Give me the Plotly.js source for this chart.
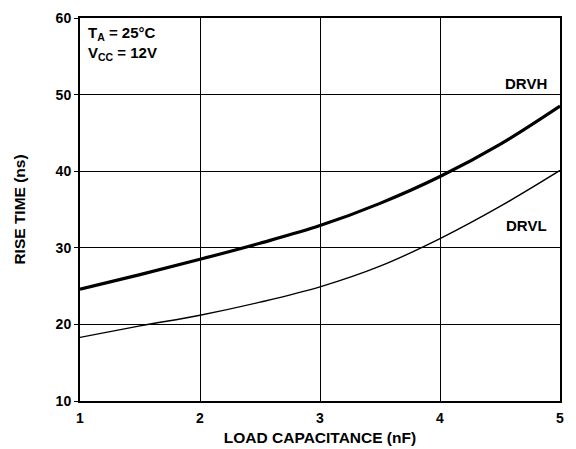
<!DOCTYPE html>
<html>
<head>
<meta charset="utf-8">
<script src="https://cdn.plot.ly/plotly-3.0.1.min.js"></script>
<style>html,body{margin:0;padding:0;background:#fff;}#chart{width:576px;height:449px;}</style>
</head>
<body>
<div id="chart"></div>
<script>
const capNF = [1, 1.5, 2, 2.5, 3, 3.5, 4, 4.5, 5];
const drvhRise = [24.6, 26.5, 28.5, 30.6, 32.9, 35.8, 39.3, 43.5, 48.5];
const drvlRise = [18.3, 19.8, 21.2, 22.9, 24.9, 27.6, 31.2, 35.4, 40.1];
const xTicks = [1, 2, 3, 4, 5];
const yTicks = [10, 20, 30, 40, 50, 60];

const F = 'Liberation Sans, Arial, sans-serif';
const traces = [
  {x: capNF, y: drvhRise, mode: 'lines', line: {color: '#000', width: 3.2, shape: 'spline'}, name: 'DRVH', hoverinfo: 'none'},
  {x: capNF, y: drvlRise, mode: 'lines', line: {color: '#000', width: 1.4, shape: 'spline'}, name: 'DRVL', hoverinfo: 'none'}
];
const layout = {
  width: 576, height: 449,
  margin: {l: 80, r: 16, t: 18, b: 48},
  paper_bgcolor: '#fff', plot_bgcolor: '#fff',
  showlegend: false,
  font: {family: F, color: '#000'},
  xaxis: {
    range: [1, 5], tickvals: xTicks, ticktext: xTicks.map(String),
    showgrid: true, gridcolor: '#000', gridwidth: 1,
    showline: true, linecolor: '#000', linewidth: 2, mirror: true,
    ticks: '', zeroline: false, ticklabelstandoff: 3,
    tickfont: {family: F, size: 14, weight: 'bold', color: '#000'},
    title: {text: 'LOAD CAPACITANCE (nF)', font: {family: F, size: 15.5, weight: 'bold', color: '#000'}, standoff: 7}
  },
  yaxis: {
    range: [10, 60], tickvals: yTicks, ticktext: yTicks.map(String),
    showgrid: true, gridcolor: '#000', gridwidth: 1,
    showline: true, linecolor: '#000', linewidth: 2, mirror: true,
    ticks: 'outside', ticklen: 4, tickcolor: '#000', zeroline: false,
    tickfont: {family: F, size: 14, weight: 'bold', color: '#000'},
    title: {text: 'RISE TIME (ns)', font: {family: F, size: 15.5, weight: 'bold', color: '#000'}, standoff: 26}
  },
  annotations: [
    {xref: 'paper', yref: 'paper', x: 0.012, y: 0.99, xanchor: 'left', yanchor: 'top', align: 'left', showarrow: false,
     text: 'T<sub>A</sub> = 25°C<br>V<sub>CC</sub> = 12V', font: {family: F, size: 15, weight: 'bold', color: '#000'}},
    {xref: 'paper', yref: 'y', x: 0.978, y: 51.4, xanchor: 'right', yanchor: 'middle', showarrow: false,
     text: 'DRVH', font: {family: F, size: 15, weight: 'bold', color: '#000'}},
    {xref: 'paper', yref: 'y', x: 0.978, y: 32.95, xanchor: 'right', yanchor: 'middle', showarrow: false,
     text: 'DRVL', font: {family: F, size: 15, weight: 'bold', color: '#000'}}
  ]
};
Plotly.newPlot('chart', traces, layout, {staticPlot: true, displayModeBar: false});
</script>
</body>
</html>
